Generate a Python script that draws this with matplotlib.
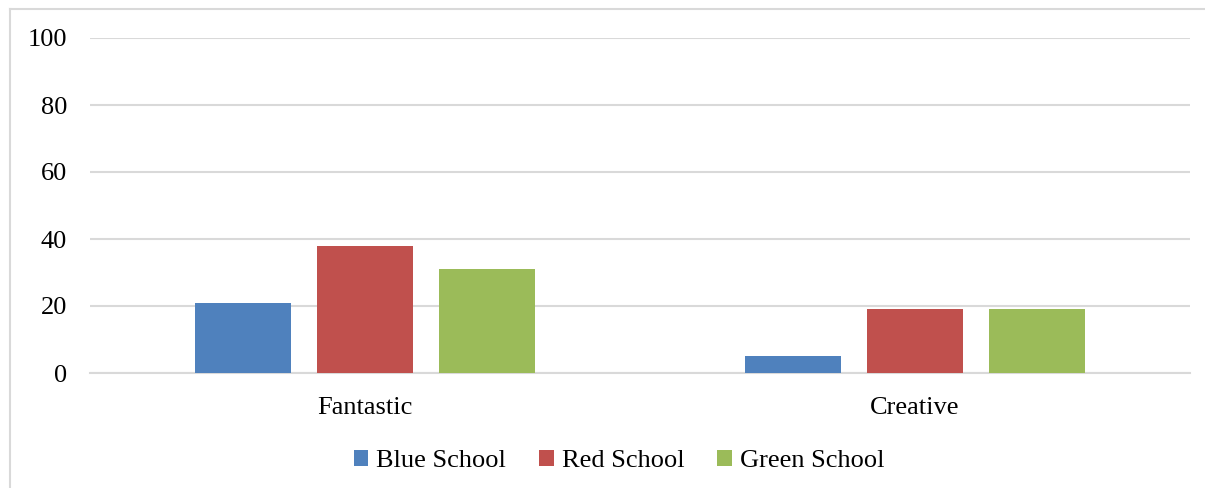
import matplotlib.pyplot as plt
import matplotlib.lines as mlines
import numpy as np

categories = ['Fantastic', 'Creative']
schools = ['Blue School', 'Red School', 'Green School']
blue_vals = [21, 5]
red_vals = [38, 19]
green_vals = [31, 19]
colors = ['#4F81BD', '#C0504D', '#9BBB59']

plt.rcParams['font.family'] = ['Liberation Serif', 'DejaVu Serif']

fig = plt.figure(figsize=(12.05, 4.88), dpi=100)
ax = fig.add_axes([90 / 1205, 1 - 373 / 488, 1100 / 1205, 335 / 488])

# outer frame: only top and left edges fall inside the picture
fx, fy = 9.5 / 1205, 1 - 9 / 488
fig.lines.append(mlines.Line2D([fx, 1.01], [fy, fy], transform=fig.transFigure,
                               color='#d9d9d9', linewidth=1.5))
fig.lines.append(mlines.Line2D([fx, fx], [-0.01, fy], transform=fig.transFigure,
                               color='#d9d9d9', linewidth=1.5))

x = np.arange(len(categories))
width = 0.175
step = 0.222
for i, (vals, name) in enumerate(zip([blue_vals, red_vals, green_vals], schools)):
    ax.bar(x + (i - 1) * step, vals, width, color=colors[i], label=name, zorder=3)

ax.set_xlim(-0.5, 1.5)
ax.set_ylim(0, 100)
ax.set_yticks(range(0, 101, 20))
ax.set_xticks(x)
ax.set_xticklabels(categories)
ax.yaxis.grid(True, color='#d9d9d9', linewidth=1.5, zorder=0)
ax.tick_params(axis='both', length=0, labelsize=19)
ax.tick_params(axis='y', pad=16.5)
ax.tick_params(axis='x', pad=17)
for side in ['top', 'right', 'left']:
    ax.spines[side].set_visible(False)
ax.spines['bottom'].set_color('#d9d9d9')
ax.spines['bottom'].set_linewidth(1.5)

ax.legend(loc='center', bbox_to_anchor=(619 / 1205, 1 - 461 / 488),
          bbox_transform=fig.transFigure, ncol=3, frameon=False, fontsize=19,
          handlelength=0.55, handleheight=0.55, handletextpad=0.3, columnspacing=1.25)

fig.savefig('out.png', dpi=100)
